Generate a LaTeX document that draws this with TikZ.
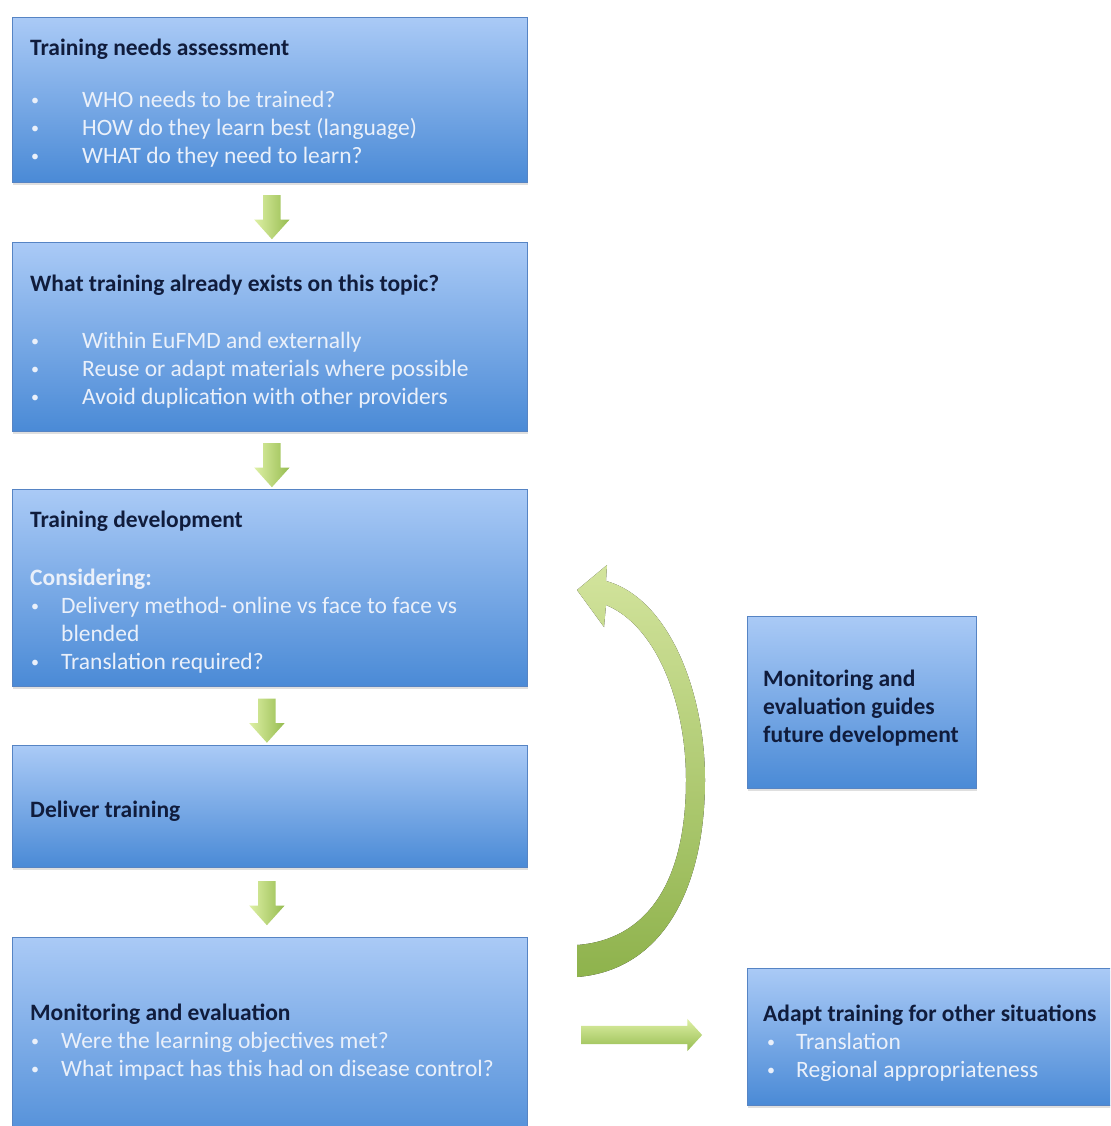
\documentclass[tikz,border=0pt]{standalone}
\usepackage{fontspec}
\setmainfont{Carlito}
\usetikzlibrary{shapes.arrows,calc,shadows}
\definecolor{boxtop}{RGB}{170,202,246}
\definecolor{boxbot}{RGB}{74,138,214}
\definecolor{boxedge}{RGB}{86,132,196}
\definecolor{titlecol}{RGB}{16,28,60}
\definecolor{bulcol}{RGB}{234,240,250}
\definecolor{grlight}{RGB}{222,240,165}
\definecolor{grdark}{RGB}{150,188,80}
\tikzset{
  box/.style={draw=boxedge, line width=0.8pt, top color=boxtop, bottom color=boxbot,
    inner sep=0pt, anchor=north west,
    drop shadow={opacity=0.25, shadow xshift=1pt, shadow yshift=-3pt}},
  ttl/.style={anchor=base west, inner sep=0pt, text=titlecol, font=\fontsize{23.5}{28}\selectfont\bfseries},
  bul/.style={anchor=base west, inner sep=0pt, text=bulcol, font=\fontsize{23.5}{28}\selectfont},
  bulb/.style={bul, font=\fontsize{23.5}{28}\selectfont\bfseries},
  dot/.style={anchor=base west, inner sep=0pt, text=bulcol, font=\fontsize{16}{20}\selectfont, yshift=2pt},
  downarr/.style={single arrow, rotate=-90, draw=none, inner xsep=0pt, inner ysep=8.5pt,
    minimum height=44pt, minimum width=35pt, single arrow head extend=9pt,
    single arrow tip angle=84, left color=grlight, right color=grdark},
  rightarr/.style={single arrow, draw=none, inner xsep=0pt, inner ysep=9pt,
    minimum height=121pt, minimum width=32pt, single arrow head extend=7pt,
    single arrow tip angle=95, top color=grlight, bottom color=grdark}
}
\begin{document}
\begin{tikzpicture}[x=1pt,y=-1pt]
\useasboundingbox (0,0) rectangle (1110,1126);
\clip (0,0) rectangle (1110,1126);
\fill[white] (0,0) rectangle (1110,1126);

% boxes
\node[box, minimum width=515pt, minimum height=165pt] (b1) at (12,17) {};
\node[box, minimum width=515pt, minimum height=189pt] (b2) at (12,242) {};
\node[box, minimum width=515pt, minimum height=197pt] (b3) at (12,489) {};
\node[box, minimum width=515pt, minimum height=122pt] (b4) at (12,745) {};
\node[box, minimum width=515pt, minimum height=220pt] (b5) at (12,937) {};
\node[box, minimum width=229pt, minimum height=172pt] (m) at (747,616) {};
\node[box, minimum width=400pt, minimum height=137pt] (ad) at (747,968) {};

% box 1 text
\node[ttl] (t1) at (30,56) {Training needs assessment};
\node[dot] (d11) at (31,108) {•};
\node[bul] (l11) at (82,108) {WHO needs to be trained?};
\node[dot] (d12) at (31,136) {•};
\node[bul] (l12) at (82,136) {HOW do they learn best (language)};
\node[dot] (d13) at (31,164) {•};
\node[bul] (l13) at (82,164) {WHAT do they need to learn?};

% box 2 text
\node[ttl] (t2) at (30,291) {What training already exists on this topic?};
\node[dot] (d21) at (31,348) {•};
\node[bul] (l21) at (82,348) {Within EuFMD and externally};
\node[dot] (d22) at (31,376) {•};
\node[bul] (l22) at (82,376) {Reuse or adapt materials where possible};
\node[dot] (d23) at (31,404) {•};
\node[bul] (l23) at (82,404) {Avoid duplication with other providers};

% box 3 text
\node[ttl] (t3) at (30,527) {Training development};
\node[bulb] (c3) at (30,585) {Considering:};
\node[dot] (d31) at (31,613) {•};
\node[bul] (l31) at (61,613) {Delivery method- online vs face to face vs};
\node[bul] (l31b) at (61,641) {blended};
\node[dot] (d32) at (31,669) {•};
\node[bul] (l32) at (61,669) {Translation required?};

% box 4 text
\node[ttl] (t4) at (30,817) {Deliver training};

% box 5 text
\node[ttl] (t5) at (30,1020) {Monitoring and evaluation};
\node[dot] (d51) at (31,1048) {•};
\node[bul] (l51) at (61,1048) {Were the learning objectives met?};
\node[dot] (d52) at (31,1076) {•};
\node[bul] (l52) at (61,1076) {What impact has this had on disease control?};

% right box text
\node[ttl] (tm1) at (763,686) {Monitoring and};
\node[ttl] (tm2) at (763,714) {evaluation guides};
\node[ttl] (tm3) at (763,742) {future development};

% adapt box text
\node[ttl] (ta) at (763,1021) {Adapt training for other situations};
\node[dot] (da1) at (767,1049) {•};
\node[bul] (la1) at (796,1049) {Translation};
\node[dot] (da2) at (767,1077) {•};
\node[bul] (la2) at (796,1077) {Regional appropriateness};

% down arrows
\node[downarr] (a1) at ($(b1.south)!0.5!(b2.north)+(2,0)$) {};
\node[downarr] (a2) at ($(b2.south)!0.5!(b3.north)+(2,0)$) {};
\node[downarr] (a3) at ($(b3.south)!0.5!(b4.north)+(-3,0)$) {};
\node[downarr] (a4) at ($(b4.south)!0.5!(b5.north)+(-3,-4)$) {};

% right arrow
\node[rightarr] (a5) at ($(b5.east |- 0,1035)!0.5!(ad.west |- 0,1035)$) {};

% curved arrow (from monitoring back to development)
\coordinate (tip) at (577,590);
\fill[top color=grlight, bottom color=grdark, opacity=0.95]
  (607,565) -- (606,581)
  .. controls (668,598) and (705,690) .. (705,780)
  .. controls (705,885) and (665,970) .. (577,977)
  -- (577,945)
  .. controls (645,940) and (686,885) .. (686,780)
  .. controls (686,700) and (655,625) .. (606,605)
  -- (604,627) -- (tip) -- cycle;
\end{tikzpicture}
\end{document}
